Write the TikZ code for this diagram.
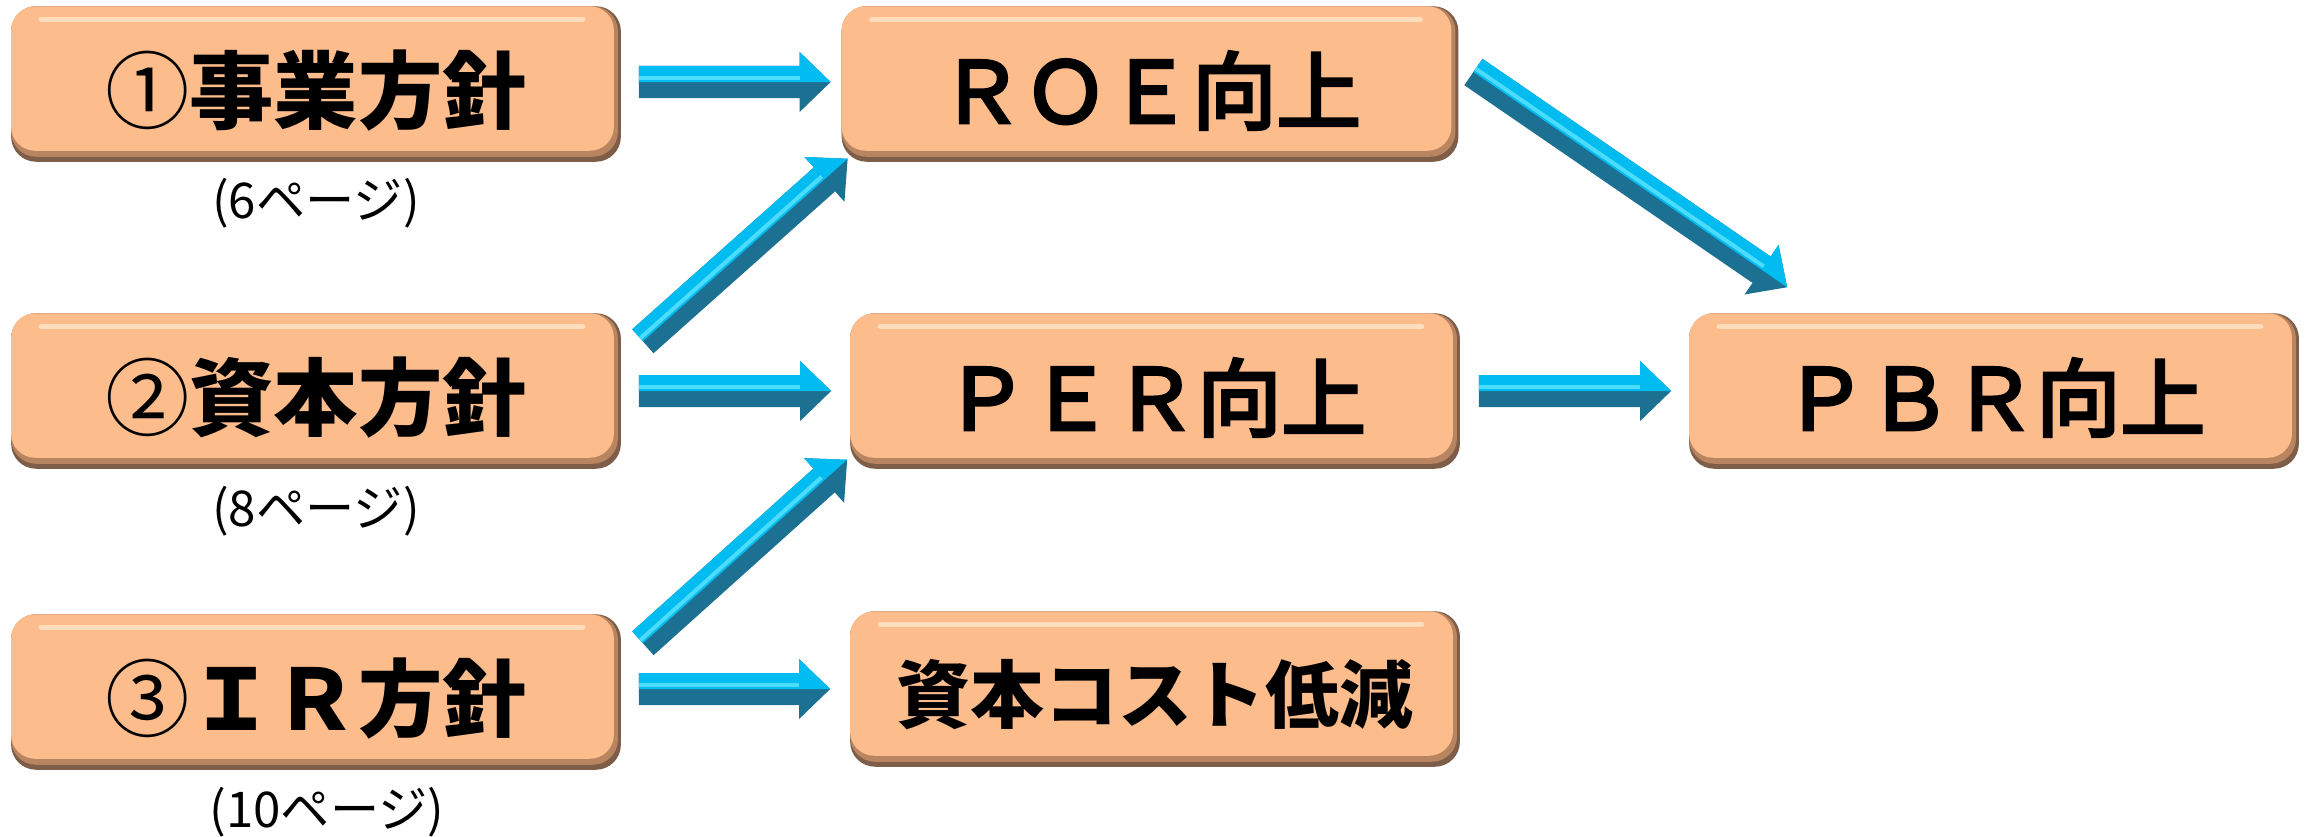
\documentclass[tikz,border=0pt]{standalone}
\usepackage{fontspec}
\setmainfont{Noto Sans CJK JP}
\newfontfamily\medfont{Noto Sans CJK JP}[FakeBold=4]
\usepackage{tikz}
\usetikzlibrary{calc,backgrounds}
\definecolor{boxface}{HTML}{FDBC8C}
\definecolor{boxmid}{HTML}{B98561}
\definecolor{boxedge}{HTML}{7E5E49}
\definecolor{boxshine}{HTML}{FFDDBD}
\definecolor{arrowlight}{HTML}{00BCF0}
\definecolor{arrowdark}{HTML}{1C7092}
\definecolor{arrowshine}{HTML}{4CDCFF}
\tikzset{
  plate/.style={minimum width=6.08cm, minimum height=1.54cm, inner sep=0pt,
    text height=22pt, text depth=0pt,
    font=\fontsize{24pt}{28pt}\selectfont\bfseries},
  wideplate/.style={plate, minimum width=6.15cm},
  goalplate/.style={plate, font=\fontsize{24pt}{28pt}\medfont},
  smallplate/.style={plate, text height=19pt, font=\fontsize{21pt}{25pt}\selectfont\bfseries},
  pagelab/.style={font=\fontsize{14pt}{16pt}\selectfont},
}
% block arrow: shaft 32px, head 60px wide, 31px long
\newcommand{\blockarrow}[2]{%
  \coordinate (baS) at (#1);
  \coordinate (baE) at (#2);
  \coordinate (baN) at ($(baE)!0.31cm!(baS)$);
  \fill[arrowdark] ($(baS)!0.16cm!90:(baE)$) -- ($(baN)!0.16cm!90:(baE)$)
    -- ($(baN)!0.30cm!90:(baE)$) -- (baE) -- ($(baN)!0.30cm!-90:(baE)$)
    -- ($(baN)!0.16cm!-90:(baE)$) -- ($(baS)!0.16cm!-90:(baE)$) -- cycle;
  \fill[arrowlight] ($(baS)!0.16cm!90:(baE)$) -- ($(baN)!0.16cm!90:(baE)$)
    -- ($(baN)!0.30cm!90:(baE)$) -- (baE) -- (baN) -- (baS) -- cycle;
  \draw[arrowshine, line width=0.04cm] ($(baS)!0.04cm!90:(baE)$) -- ($(baN)!0.04cm!90:(baE)$);
}

\begin{document}
\begin{tikzpicture}[x=0.01cm, y=-0.01cm]
  \useasboundingbox (0,0) rectangle (2310,836);

  % policies
  \node[plate] (jigyo) at (316,84) {{\mdseries ①}事業方針};
  \node[plate] (shihon) at (316,391) {{\mdseries ②}資本方針};
  \node[plate] (ir) at (316,692) {{\mdseries ③}ＩＲ方針};
  \node[pagelab] (page6) at (316,203) {(6ページ)};
  \node[pagelab] (page8) at (316,511) {(8ページ)};
  \node[pagelab] (page10) at (327,812) {(10ページ)};

  % targets
  \node[goalplate, wideplate, font=\fontsize{24pt}{28pt}\medfont] (roe) at (1150,84) {ＲＯＥ向上};
  \node[goalplate] (per) at (1155,391) {ＰＥＲ向上};
  \node[smallplate] (cost) at (1155,689) {資本コスト低減};
  \node[goalplate] (pbr) at (1994,391) {ＰＢＲ向上};

  \begin{scope}[on background layer]
    \foreach \n in {jigyo,shihon,ir,roe,per,cost,pbr}{
      \fill[boxedge, rounded corners=0.25cm] (\n.south west) rectangle (\n.north east);
      \fill[boxmid, rounded corners=0.25cm] ($(\n.south west)+(0,-5)$) rectangle ($(\n.north east)+(-3,0)$);
      \fill[boxface, rounded corners=0.24cm] ($(\n.south west)+(0,-11)$) rectangle ($(\n.north east)+(-7,0)$);
      \draw[boxshine, line width=0.05cm, line cap=round]
        ($(\n.north west)+(30,13)$) -- ($(\n.north east)+(-38,13)$);
    }
  \end{scope}

  % arrows
  \blockarrow{$(jigyo.east)+(18,-2)$}{$(roe.west)+(-11,-2)$}
  \blockarrow{$(shihon.north east)+(22,28)$}{$(roe.south west)+(6,-3)$}
  \blockarrow{$(shihon.east)+(18,0)$}{$(per.west)+(-19,0)$}
  \blockarrow{$(ir.north east)+(22,29)$}{$(per.south west)+(-3,-9)$}
  \blockarrow{$(ir.east)+(18,-3)$}{$(cost.west)+(-20,0)$}
  \blockarrow{$(roe.east)+(15,-12)$}{$(pbr.north west)+(98,-26)$}
  \blockarrow{$(per.east)+(19,0)$}{$(pbr.west)+(-18,0)$}
\end{tikzpicture}
\end{document}
